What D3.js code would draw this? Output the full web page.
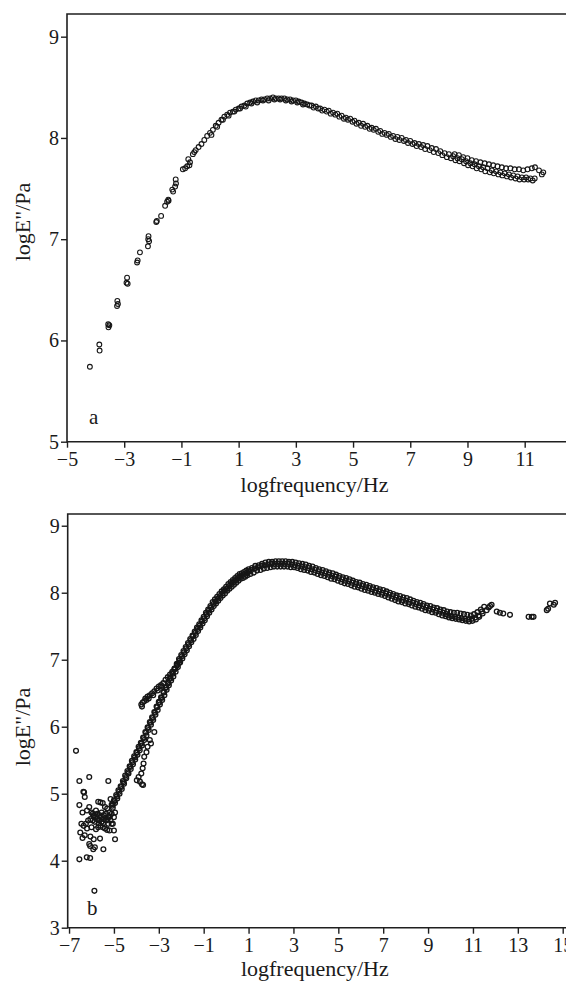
<!DOCTYPE html>
<html>
<head>
<meta charset="utf-8">
<script src="https://cdn.jsdelivr.net/npm/d3@7"></script>
<style>
  body { margin: 0; background: #fff; }
  svg { display: block; }
  text { font-family: "Liberation Serif", "Times New Roman", serif; fill: #1a1a1a; }
</style>
</head>
<body>
<svg id="chart" width="566" height="983"></svg>
<script>
// ---- tick values ----
const xTicksA = [-5, -3, -1, 1, 3, 5, 7, 9, 11];
const yTicksA = [5, 6, 7, 8, 9];
const xTicksB = [-7, -5, -3, -1, 1, 3, 5, 7, 9, 11, 13, 15];
const yTicksB = [3, 4, 5, 6, 7, 8, 9];

// ---- panel a: log E'' vs log frequency (master curve) ----
const aRise = [
  [-4.20,5.74],[-3.87,5.96],[-3.86,5.90],[-3.56,6.16],[-3.55,6.13],[-3.52,6.15],
  [-3.24,6.39],[-3.25,6.34],[-3.22,6.36],[-2.92,6.57],[-2.90,6.62],[-2.88,6.56],
  [-2.55,6.77],[-2.53,6.79],[-2.45,6.87],[-2.17,6.93],[-2.15,7.03],[-2.13,6.98],[-2.16,7.00],
  [-1.88,7.17],[-1.86,7.18],[-1.71,7.23],[-1.57,7.33],[-1.50,7.37],[-1.46,7.39],[-1.45,7.38],
  [-1.32,7.49],[-1.29,7.47],[-1.20,7.59],[-1.22,7.52],[-1.19,7.55],
  [-0.95,7.69],[-0.87,7.70],[-0.80,7.72],[-0.76,7.79],[-0.70,7.76],[-0.72,7.73],
  [-0.60,7.84],[-0.55,7.86]
];
const aMain = [
  [-0.50,7.88],[-0.40,7.91],[-0.30,7.94],[-0.20,7.98],[-0.10,8.02],[0.00,8.05],[0.10,8.08],
  [0.20,8.12],[0.30,8.15],[0.40,8.18],[0.50,8.21],[0.60,8.23],[0.70,8.25],[0.80,8.26],
  [0.90,8.28],[1.00,8.29],[1.10,8.31],[1.20,8.32],[1.30,8.34],[1.40,8.35],[1.50,8.36],
  [1.60,8.37],[1.70,8.37],[1.80,8.38],[1.90,8.38],[2.00,8.39],[2.10,8.39],[2.20,8.40],
  [2.30,8.39],[2.40,8.39],[2.50,8.39],[2.60,8.39],[2.70,8.38],[2.80,8.38],[2.90,8.37],
  [3.00,8.37],[3.10,8.36],[3.20,8.35],[3.30,8.34],[3.40,8.33],[3.55,8.32],[3.70,8.31],
  [3.85,8.29],[4.00,8.28],[4.15,8.27],[4.30,8.25],[4.45,8.24],[4.60,8.22],[4.75,8.20],
  [4.90,8.19],[5.05,8.17],[5.20,8.15],[5.35,8.14],[5.50,8.12],[5.65,8.10],[5.80,8.09],
  [5.95,8.07],[6.10,8.05],[6.25,8.04],[6.40,8.02],[6.55,8.01],[6.70,8.00],[6.85,7.98],
  [7.00,7.97],[7.15,7.95],[7.30,7.94],[7.45,7.93],[7.60,7.92],[7.75,7.90],[7.90,7.89],
  [8.05,7.87],[8.20,7.85],[8.35,7.84],[8.50,7.82],[8.65,7.80],[8.80,7.79],[8.95,7.77],
  [9.10,7.75],[9.25,7.74],[9.40,7.72],[9.55,7.71],[9.70,7.70],[9.85,7.68],[10.00,7.67],
  [10.15,7.66],[10.30,7.65],[10.45,7.64],[10.60,7.63],[10.75,7.62],[10.90,7.61],
  [11.05,7.61],[11.20,7.60],[11.35,7.60]
];
const aLower = [
  [0.05,8.03],[0.25,8.11],[0.45,8.18],[0.65,8.22],[0.85,8.26],[1.05,8.29],[1.25,8.31],
  [1.45,8.34],[1.65,8.35],[1.85,8.37],[2.05,8.37],[2.25,8.38],[2.45,8.38],[2.65,8.37],
  [2.85,8.36],[3.05,8.35],[3.25,8.33],[3.48,8.32],[3.62,8.30],[3.78,8.29],[3.92,8.27],
  [4.08,8.26],[4.22,8.24],[4.38,8.23],[4.52,8.21],[4.68,8.19],[4.82,8.18],[4.98,8.16],
  [5.12,8.14],[5.28,8.12],[5.42,8.11],[5.58,8.09],[5.72,8.08],[5.88,8.06],[6.02,8.04],
  [6.18,8.03],[6.32,8.01],[6.48,7.99],[6.62,7.98],[6.78,7.97],[6.92,7.95],[7.08,7.94],
  [7.22,7.92],[7.38,7.91],[7.52,7.89],[7.68,7.88],[7.82,7.86],[7.98,7.85],[8.12,7.83],
  [8.28,7.81],[8.42,7.80],[8.58,7.78],[8.72,7.77],[8.88,7.75],[9.02,7.73],[9.18,7.72],
  [9.32,7.70],[9.48,7.69],[9.62,7.67],[9.78,7.66],[9.92,7.65],[10.08,7.64],[10.22,7.63],
  [10.38,7.62],[10.52,7.61],[10.68,7.60],[10.82,7.59],[10.98,7.59],[11.12,7.59],[11.28,7.58]
];
const aUpper = [
  [8.55,7.84],[8.70,7.83],[8.85,7.81],[9.00,7.80],[9.15,7.78],[9.30,7.77],[9.45,7.76],
  [9.60,7.75],[9.75,7.74],[9.90,7.73],[10.05,7.72],[10.20,7.71],[10.35,7.70],[10.50,7.70],
  [10.65,7.69],[10.80,7.69],[10.95,7.68],[11.10,7.69],[11.25,7.70],[11.36,7.71],
  [11.50,7.68],[11.65,7.66],[11.60,7.64]
];

// ---- panel b: log E'' vs log frequency (wide range) ----
const bLowScatter = [
  [-6.69,5.64],[-6.54,5.19],[-6.10,5.25],[-5.25,5.19],[-6.36,5.03],[-6.33,5.02],[-6.30,4.95],
  [-6.54,4.83],[-6.40,4.72],[-6.20,4.75],[-6.10,4.80],[-6.00,4.72],[-5.90,4.68],[-5.80,4.75],
  [-5.70,4.88],[-5.60,4.87],[-5.50,4.86],[-5.40,4.80],[-5.30,4.78],[-5.20,4.72],[-5.10,4.70],
  [-5.00,4.65],[-6.45,4.55],[-6.35,4.52],[-6.25,4.55],[-6.15,4.60],[-6.05,4.62],[-5.95,4.60],
  [-5.85,4.58],[-5.75,4.62],[-5.65,4.60],[-5.55,4.58],[-5.45,4.62],[-5.35,4.60],[-5.25,4.55],
  [-5.15,4.60],[-5.05,4.55],[-5.95,4.70],[-5.85,4.65],[-5.75,4.70],[-5.65,4.68],[-5.55,4.72],
  [-5.45,4.68],[-5.35,4.70],[-5.25,4.65],[-5.60,4.52],[-5.50,4.50],[-5.40,4.48],[-5.30,4.46],
  [-5.20,4.45],[-5.00,4.45],[-5.70,4.50],[-5.80,4.47],[-6.00,4.50],[-6.20,4.48],[-6.50,4.42],
  [-6.40,4.34],[-6.30,4.38],[-6.05,4.36],[-5.90,4.32],[-5.62,4.33],[-5.47,4.17],[-4.95,4.32],
  [-6.06,4.22],[-5.92,4.17],[-6.10,4.25],[-5.85,4.20],[-6.54,4.02],[-6.21,4.05],[-6.06,4.04],
  [-5.87,3.55],[-5.10,4.55],[-4.95,4.72],[-5.05,4.85],[-5.15,4.92],
  [-5.58,4.64],[-5.48,4.56],[-5.38,4.64],[-5.28,4.62],[-5.18,4.66],[-5.68,4.56],[-5.78,4.66]
];
const bBandUpper = [
  [-5.10,4.84],[-5.00,4.90],[-4.90,4.98],[-4.80,5.05],[-4.70,5.11],[-4.60,5.19],[-4.50,5.27],
  [-4.40,5.34],[-4.30,5.41],[-4.20,5.49],[-4.10,5.56],[-4.00,5.62],[-3.90,5.70],[-3.80,5.76],
  [-3.70,5.84],[-3.60,5.92],[-3.50,5.99],[-3.40,6.07],[-3.30,6.14],[-3.20,6.22],[-3.10,6.30],
  [-3.00,6.37],[-2.90,6.44],[-2.80,6.52],[-2.70,6.59],[-2.60,6.66],[-2.50,6.73],[-2.40,6.80],
  [-2.30,6.87],[-2.20,6.94],[-2.10,7.01],[-2.00,7.07],[-1.90,7.13],[-1.80,7.19],[-1.70,7.25],
  [-1.60,7.31],[-1.50,7.36],[-1.40,7.42],[-1.30,7.48],[-1.20,7.53],[-1.10,7.59],[-1.00,7.64],
  [-0.90,7.70],[-0.80,7.75],[-0.70,7.80],[-0.60,7.86],[-0.50,7.90],[-0.40,7.94],[-0.30,7.98],
  [-0.20,8.02],[-0.10,8.05],[0.00,8.09],[0.10,8.13],[0.20,8.16],[0.30,8.19],[0.40,8.22],
  [0.50,8.25],[0.60,8.28],[0.70,8.29],[0.80,8.31],[0.90,8.33],[1.00,8.35],[1.15,8.37],
  [1.30,8.40],[1.45,8.41],[1.60,8.43],[1.75,8.45],[1.90,8.46],[2.05,8.46],[2.20,8.47],
  [2.35,8.47],[2.50,8.47],[2.65,8.47],[2.80,8.46],[2.95,8.46],[3.10,8.45],[3.25,8.44],
  [3.40,8.43],[3.55,8.42],[3.70,8.40],[3.85,8.39],[4.00,8.37],[4.15,8.35],[4.30,8.34],
  [4.45,8.32],[4.60,8.30],[4.75,8.29],[4.90,8.27],[5.05,8.25],[5.20,8.23],[5.35,8.22],
  [5.50,8.20],[5.65,8.18],[5.80,8.16],[5.95,8.15],[6.10,8.13],[6.25,8.12],[6.40,8.10],
  [6.55,8.08],[6.70,8.07],[6.85,8.05],[7.00,8.04],[7.15,8.02],[7.30,8.00],[7.45,7.98],
  [7.60,7.96],[7.75,7.95],[7.90,7.93],[8.05,7.92],[8.20,7.90],[8.35,7.88],[8.50,7.86],
  [8.65,7.85],[8.80,7.83],[8.95,7.81],[9.10,7.80],[9.25,7.78],[9.40,7.77],[9.55,7.75],
  [9.70,7.74],[9.85,7.72],[10.00,7.71],[10.15,7.70],[10.30,7.70],[10.45,7.69],[10.60,7.68],
  [10.75,7.67],[10.90,7.66],[11.05,7.68],[11.20,7.71],[11.35,7.75],[11.50,7.79]
];
const bBandCenter = [
  [-5.07,4.82],[-4.97,4.89],[-4.87,4.96],[-4.77,5.03],[-4.67,5.10],[-4.57,5.17],[-4.47,5.25],
  [-4.37,5.32],[-4.27,5.40],[-4.17,5.47],[-4.07,5.54],[-3.97,5.61],[-3.87,5.68],[-3.77,5.75],
  [-3.67,5.83],[-3.57,5.91],[-3.47,5.98],[-3.37,6.06],[-3.27,6.13],[-3.17,6.21],[-3.07,6.29],
  [-2.97,6.36],[-2.87,6.43],[-2.77,6.51],[-2.67,6.58],[-2.57,6.65],[-2.47,6.72],[-2.37,6.79],
  [-2.27,6.86],[-2.17,6.93],[-2.07,6.99],[-1.97,7.05],[-1.87,7.11],[-1.77,7.17],[-1.67,7.23],
  [-1.57,7.29],[-1.47,7.35],[-1.37,7.40],[-1.27,7.46],[-1.17,7.51],[-1.07,7.57],[-0.97,7.62],
  [-0.87,7.68],[-0.77,7.73],[-0.67,7.78],[-0.57,7.83],[-0.47,7.87],[-0.37,7.91],[-0.27,7.95],
  [-0.17,7.99],[-0.07,8.03],[0.03,8.06],[0.13,8.10],[0.23,8.13],[0.33,8.16],[0.43,8.19],
  [0.53,8.22],[0.63,8.24],[0.73,8.26],[0.83,8.28],[0.93,8.30],[1.03,8.32],
  [1.12,8.34],[1.27,8.36],[1.42,8.38],[1.57,8.40],[1.72,8.41],[1.87,8.42],[2.02,8.43],
  [2.17,8.43],[2.32,8.43],[2.47,8.43],[2.62,8.43],[2.77,8.43],[2.92,8.42],[3.07,8.41],
  [3.22,8.40],[3.37,8.39],[3.52,8.38],[3.67,8.37],[3.82,8.35],[3.97,8.34],[4.12,8.32],
  [4.27,8.30],[4.42,8.29],[4.57,8.27],[4.72,8.25],[4.87,8.24],[5.02,8.22],[5.17,8.20],
  [5.32,8.18],[5.47,8.17],[5.62,8.15],[5.77,8.13],[5.92,8.11],[6.07,8.10],[6.22,8.08],
  [6.37,8.07],[6.52,8.05],[6.67,8.03],[6.82,8.02],[6.97,8.00],[7.12,7.99],[7.27,7.97],
  [7.42,7.95],[7.57,7.93],[7.72,7.91],[7.87,7.89],[8.02,7.88],[8.17,7.86],[8.32,7.85],
  [8.47,7.83],[8.62,7.81],[8.77,7.80],[8.92,7.78],[9.07,7.76],[9.22,7.75],[9.37,7.73],
  [9.52,7.72],[9.67,7.70],[9.82,7.68]
];
const bBandLower = [
  [-5.05,4.79],[-4.95,4.86],[-4.85,4.93],[-4.75,5.00],[-4.65,5.07],[-4.55,5.15],[-4.45,5.23],
  [-4.35,5.30],[-4.25,5.37],[-4.15,5.44],[-4.05,5.51],[-3.95,5.58],[-3.85,5.65],[-3.75,5.72],
  [-3.65,5.80],[-3.55,5.87],[-3.45,5.95],[-3.35,6.03],[-3.25,6.10],[-3.15,6.18],[-3.05,6.25],
  [-2.95,6.33],[-2.85,6.40],[-2.75,6.47],[-2.65,6.55],[-2.55,6.62],[-2.45,6.69],[-2.35,6.75],
  [-2.25,6.82],[-2.15,6.89],[-2.05,6.96],[-1.95,7.02],[-1.85,7.08],[-1.75,7.14],[-1.65,7.20],
  [-1.55,7.26],[-1.45,7.31],[-1.35,7.37],[-1.25,7.43],[-1.15,7.48],[-1.05,7.54],[-0.95,7.59],
  [-0.85,7.65],[-0.75,7.70],[-0.65,7.75],[-0.55,7.80],[-0.45,7.84],[-0.35,7.88],[-0.25,7.92],
  [-0.15,7.96],[-0.05,7.99],[0.05,8.03],[0.15,8.06],[0.25,8.09],[0.35,8.12],[0.45,8.15],
  [0.55,8.18],[0.65,8.21],[0.75,8.22],[0.85,8.24],[0.95,8.26],[1.08,8.28],[1.23,8.30],
  [1.38,8.33],[1.53,8.34],[1.68,8.36],[1.83,8.37],[1.98,8.38],[2.13,8.39],[2.28,8.39],
  [2.43,8.39],[2.58,8.39],[2.73,8.39],[2.88,8.38],[3.03,8.38],[3.18,8.37],[3.33,8.35],
  [3.48,8.34],[3.63,8.33],[3.78,8.31],[3.93,8.30],[4.08,8.28],[4.23,8.26],[4.38,8.25],
  [4.53,8.23],[4.68,8.21],[4.83,8.20],[4.98,8.18],[5.13,8.16],[5.28,8.14],[5.43,8.13],
  [5.58,8.11],[5.73,8.09],[5.88,8.08],[6.03,8.06],[6.18,8.04],[6.33,8.03],[6.48,8.01],
  [6.63,8.00],[6.78,7.98],[6.93,7.97],[7.08,7.95],[7.23,7.93],[7.38,7.91],[7.53,7.89],
  [7.68,7.87],[7.83,7.86],[7.98,7.84],[8.13,7.83],[8.28,7.81],[8.43,7.79],[8.58,7.78],
  [8.73,7.76],[8.88,7.74],[9.03,7.73],[9.18,7.71],[9.33,7.70],[9.48,7.68],[9.63,7.66],
  [9.78,7.65],[9.93,7.63],[10.08,7.62],[10.23,7.61],[10.38,7.60],[10.53,7.59],[10.68,7.58],
  [10.83,7.57],[10.98,7.58],[11.13,7.60],[11.28,7.64],[11.43,7.69]
];
const bBandMid = [
  [9.90,7.66],[10.05,7.65],[10.20,7.64],[10.35,7.63],[10.50,7.62],[10.65,7.61],[10.80,7.60],
  [10.95,7.61],[11.10,7.63],[11.25,7.66],[11.40,7.72]
];
const bBranchUpper = [
  [-3.78,6.33],[-3.75,6.30],[-3.72,6.36],[-3.65,6.38],[-3.60,6.42],[-3.55,6.40],[-3.50,6.45],
  [-3.40,6.47],[-3.30,6.50],[-3.20,6.53],[-3.10,6.57],[-3.00,6.60],[-2.90,6.62],[-2.80,6.65],
  [-2.70,6.70],[-2.60,6.74],[-2.50,6.78],[-2.40,6.82],[-2.30,6.86],[-2.20,6.91],[-2.10,6.95],
  [-3.45,6.42],[-3.25,6.47],[-3.05,6.54],[-2.85,6.60]
];
const bBranchLower = [
  [-3.98,5.20],[-3.90,5.25],[-3.84,5.18],[-3.75,5.14],[-3.70,5.13],[-3.78,5.30],[-3.72,5.38],
  [-3.68,5.45],[-3.65,5.55],[-3.55,5.62],[-3.50,5.70],[-3.40,5.80],[-3.35,5.75],[-3.20,5.92]
];
const bTail = [
  [11.61,7.74],[11.70,7.78],[11.83,7.82],[11.76,7.80],[12.06,7.72],[12.20,7.70],[12.35,7.69],
  [12.65,7.67],[13.48,7.64],[13.62,7.64],[13.70,7.64],[14.29,7.74],[14.35,7.76],[14.43,7.84],
  [14.66,7.85],[14.60,7.82]
];

const svg = d3.select("#chart");
const ink = "#1f1f1f";

const panels = [
  {
    id: "a", letter: "a",
    xDomain: [-5, 12.5], yDomain: [5, 9.224],
    left: 67, right: 567.6, top: 14, bottom: 441.7,
    xTicks: xTicksA, yTicks: yTicksA,
    series: [aRise, aMain, aLower, aUpper], dotStroke: 1.1,
    letterPos: [89, 424], yLabelY: 222, xLabelY: 492
  },
  {
    id: "b", letter: "b",
    xDomain: [-7.06, 15.2], yDomain: [3, 9.175],
    left: 67.7, right: 567.2, top: 514, bottom: 927.7,
    xTicks: xTicksB, yTicks: yTicksB,
    series: [bLowScatter, bBandUpper, bBandCenter, bBandLower, bBandMid, bBranchUpper, bBranchLower, bTail],
    dotStroke: 1.3,
    letterPos: [87, 915], yLabelY: 727, xLabelY: 976
  }
];

panels.forEach(p => {
  const g = svg.append("g").attr("class", "panel-" + p.id);
  const x = d3.scaleLinear().domain(p.xDomain).range([p.left, p.right]);
  const y = d3.scaleLinear().domain(p.yDomain).range([p.bottom, p.top]);

  // data points: open circles
  const pts = g.append("g").attr("fill", "none").attr("stroke", "#161616").attr("stroke-width", p.dotStroke);
  p.series.forEach(s => {
    pts.selectAll(null).data(s).join("circle")
      .attr("cx", d => x(d[0]))
      .attr("cy", d => y(d[1]))
      .attr("r", 2.4);
  });

  // axes
  const xAxis = d3.axisBottom(x).tickValues(p.xTicks).tickSize(6).tickPadding(4)
    .tickFormat(d3.format("d"));
  const gx = g.append("g").attr("transform", `translate(0,${p.bottom})`).call(xAxis);
  const yAxis = d3.axisLeft(y).tickValues(p.yTicks).tickSize(6).tickPadding(2)
    .tickFormat(d3.format("d"));
  const gy = g.append("g").attr("transform", `translate(${p.left},0)`).call(yAxis);
  [gx, gy].forEach(a => {
    a.select(".domain").remove();
    a.selectAll(".tick line").attr("stroke", ink).attr("stroke-width", 1.4);
    a.selectAll(".tick text").attr("fill", ink).style("font-size", "20px")
      .style("font-family", '"Liberation Serif", serif');
  });

  // frame: top, left and bottom lines
  g.append("path")
    .attr("d", `M${p.right},${p.top}H${p.left}V${p.bottom}H${p.right}`)
    .attr("fill", "none").attr("stroke", ink).attr("stroke-width", 1.6);

  // axis titles
  const cx = (p.left + 566) / 2;
  g.append("text")
    .attr("x", cx - 2).attr("y", p.xLabelY)
    .attr("text-anchor", "middle")
    .style("font-size", "22px")
    .text("logfrequency/Hz");
  g.append("text")
    .attr("transform", `translate(30,${p.yLabelY}) rotate(-90)`)
    .attr("text-anchor", "middle")
    .style("font-size", "22px")
    .text("logE\"/Pa");

  // panel letter
  g.append("text")
    .attr("x", p.letterPos[0]).attr("y", p.letterPos[1])
    .style("font-size", "21px")
    .text(p.letter);
});
</script>
</body>
</html>
